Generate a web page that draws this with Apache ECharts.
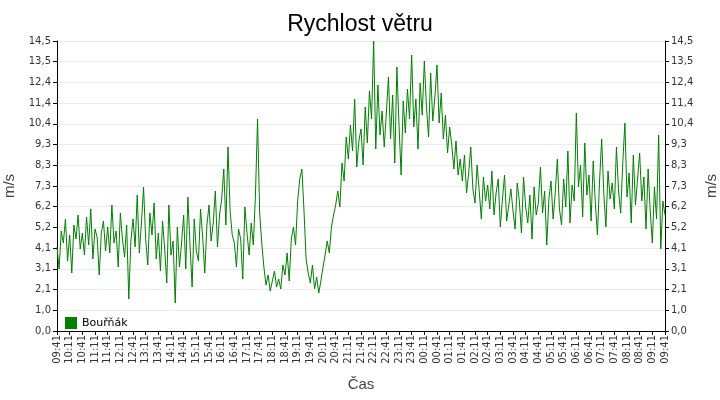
<!DOCTYPE html>
<html>
<head>
<meta charset="utf-8">
<script src="https://cdn.jsdelivr.net/npm/echarts@6/dist/echarts.min.js"></script>
<style>html,body{margin:0;padding:0;background:#fff}#chart{width:720px;height:400px}</style>
</head>
<body>
<div id="chart"></div>
<script>
// wind speed, 5-minute steps from 09:41 to 09:41 next day
var windSpeed = [
  4.2,3.1,5.0,4.4,5.6,3.5,4.8,2.9,5.3,4.6,5.8,4.1,
  4.9,3.8,5.7,4.3,6.1,3.6,5.1,4.7,2.8,4.9,5.5,4.0,
  5.2,3.9,6.3,4.4,5.0,3.2,5.9,4.6,3.7,5.3,1.6,4.5,
  5.6,4.2,6.8,3.9,5.4,7.2,4.6,3.3,5.9,4.8,6.4,3.6,
  4.9,3.0,5.5,4.1,2.4,6.3,3.8,4.5,1.4,5.2,3.2,4.4,
  5.8,3.1,6.7,4.3,2.2,5.6,4.0,3.5,6.1,4.7,2.9,5.3,
  6.3,4.5,5.4,7.0,4.2,5.8,6.6,8.1,5.3,9.2,6.0,4.8,
  4.4,3.2,5.1,4.6,2.6,6.2,4.9,3.8,5.4,4.3,6.8,10.6,
  5.9,4.4,3.2,2.3,2.8,2.0,2.5,3.0,2.2,2.6,2.1,3.3,
  2.8,3.9,2.5,4.6,5.2,4.3,6.5,7.6,8.1,6.0,3.6,2.9,
  2.4,3.3,2.1,2.7,1.9,2.5,3.2,3.8,4.5,3.9,5.2,5.8,
  6.3,7.0,6.2,8.4,7.5,9.7,8.6,10.3,9.0,11.6,8.2,9.5,
  10.1,8.3,11.2,9.4,12.0,10.6,14.5,9.1,12.3,9.8,11.0,9.2,
  10.9,12.7,9.6,11.8,8.4,13.2,10.3,7.8,11.5,9.9,12.1,10.6,
  13.8,10.2,11.6,9.1,12.4,10.8,13.5,11.2,9.7,12.9,10.5,11.7,
  13.3,10.4,11.9,9.6,10.8,8.9,10.2,9.3,8.1,9.5,7.8,8.6,
  7.5,8.8,6.9,7.9,9.2,7.1,6.4,8.3,7.0,5.6,7.7,6.5,
  7.3,6.1,8.0,5.8,6.9,7.6,5.2,6.6,7.8,5.5,6.3,7.1,
  6.0,5.1,7.4,6.5,4.9,7.7,6.2,5.4,6.8,4.6,7.2,5.8,
  6.4,8.2,5.9,7.0,4.3,6.6,7.5,5.6,6.9,8.6,6.1,5.3,
  7.6,6.2,9.0,5.4,7.3,6.5,10.9,7.2,8.3,5.7,9.4,6.8,
  7.8,5.5,8.5,6.4,4.8,7.5,9.6,6.9,5.2,8.0,6.6,7.4,
  6.1,9.2,7.0,5.9,8.4,10.4,6.7,7.9,5.4,8.8,6.3,7.6,
  8.9,6.5,7.7,5.1,8.1,6.0,4.4,7.2,5.6,9.8,4.1,6.5,
  5.8
];
var yLabels = ['0,0','1,0','2,1','3,1','4,1','5,2','6,2','7,3','8,3','9,3','10,4','11,4','12,4','13,5','14,5'];
var yMax = 14.5;
var yStep = yMax / 14;

var times = [];
for (var i = 0; i < windSpeed.length; i++) {
  var m = (9 * 60 + 41 + i * 5) % (24 * 60);
  times.push(String(Math.floor(m / 60)).padStart(2, '0') + ':' + String(m % 60).padStart(2, '0'));
}

var dom = document.getElementById('chart');
var myChart = echarts.init(dom, null, { renderer: 'canvas' });

function yAxisOf(pos) {
  return {
    type: 'value',
    position: pos,
    min: 0,
    max: yMax,
    interval: yStep,
    name: 'm/s',
    nameLocation: 'middle',
    nameGap: 24,
    nameRotate: 90,
    nameTextStyle: { fontSize: 15, color: '#444', fontFamily: 'Liberation Sans' },
    axisLine: { show: true, lineStyle: { color: '#000' } },
    axisTick: { show: true, length: 4, lineStyle: { color: '#000' } },
    axisLabel: {
      fontSize: 10, color: '#333', fontFamily: 'DejaVu Sans', margin: 6,
      formatter: function (v) { return yLabels[Math.round(v / yStep)]; }
    },
    splitLine: { show: pos === 'left', lineStyle: { color: '#ebebeb' } }
  };
}

var option = {
  animation: false,
  title: {
    text: 'Rychlost větru',
    left: 'center',
    top: 8,
    textStyle: { fontSize: 23, fontWeight: 'normal', color: '#000', fontFamily: 'Liberation Sans' }
  },
  legend: {
    data: ['Bouřňák'],
    left: 60,
    top: 312,
    icon: 'rect',
    itemWidth: 12,
    itemHeight: 12,
    itemGap: 6,
    textStyle: { fontSize: 11, color: '#000', fontFamily: 'DejaVu Sans' }
  },
  grid: { left: 57, right: 55, top: 41, bottom: 69, outerBoundsMode: 'none' },
  xAxis: {
    type: 'category',
    data: times,
    boundaryGap: false,
    name: 'Čas',
    nameLocation: 'middle',
    nameGap: 46,
    nameTextStyle: { fontSize: 15, color: '#444', fontFamily: 'Liberation Sans' },
    axisLine: { lineStyle: { color: '#000' } },
    axisTick: { interval: 5, length: 4, lineStyle: { color: '#000' } },
    axisLabel: { interval: 5, rotate: 90, fontSize: 10, color: '#333', fontFamily: 'DejaVu Sans', margin: 4 },
    splitLine: { show: false }
  },
  yAxis: [yAxisOf('left'), yAxisOf('right')],
  series: [
    {
      name: 'Bouřňák',
      type: 'line',
      data: windSpeed,
      showSymbol: false,
      itemStyle: { color: '#008000' },
      lineStyle: { color: '#008000', width: 1 }
    }
  ]
};
myChart.setOption(option);
window.addEventListener('resize', myChart.resize);
</script>
</body>
</html>
